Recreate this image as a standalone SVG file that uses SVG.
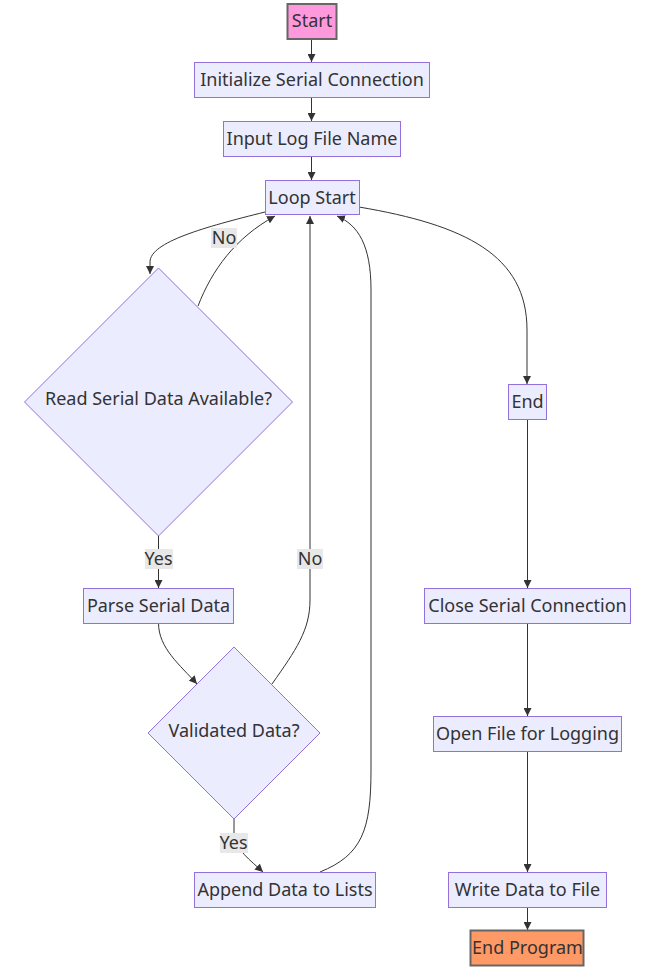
<svg xmlns="http://www.w3.org/2000/svg" width="654" height="970" viewBox="0 0 654 970">
<defs>
<style>
.n{fill:#ECECFF;stroke:#9370DB;stroke-width:1}
.t{font-family:"Noto Sans","DejaVu Sans",sans-serif;font-size:18px;fill:#333;text-anchor:middle}
.e{fill:none;stroke:#333;stroke-width:1}
.lb{fill:#e8e8e8}
</style>
<marker id="ah" viewBox="0 0 10 10" refX="10" refY="5" markerWidth="8" markerHeight="8" markerUnits="userSpaceOnUse" orient="auto">
<path d="M0,0 L10,5 L0,10 z" fill="#333"/>
</marker>
</defs>
<rect width="654" height="970" fill="#ffffff"/>
<g id="edges">
<path class="e" d="M311.5,39 L311.5,62" marker-end="url(#ah)"/>
<path class="e" d="M311.5,98 L311.5,121" marker-end="url(#ah)"/>
<path class="e" d="M311.5,157 L311.5,180" marker-end="url(#ah)"/>
<path class="e" d="M265,212 C205,227 150,242 150,262 L150,274" marker-end="url(#ah)"/>
<path class="e" d="M198,306 C212,270 235,238 275,216" marker-end="url(#ah)"/>
<path class="e" d="M158.5,536 L158.5,588" marker-end="url(#ah)"/>
<path class="e" d="M158.5,623 C158.5,648 180,665 197,684" marker-end="url(#ah)"/>
<path class="e" d="M272,684 C296,650 310,630 310,600 L310,216" marker-end="url(#ah)"/>
<path class="e" d="M234,819 L234,835 C236,850 250,860 263,872" marker-end="url(#ah)"/>
<path class="e" d="M320,872 C362,855 371,830 371,770 L371,290 C371,245 358,225 337,216" marker-end="url(#ah)"/>
<path class="e" d="M359,207 C465,225 527,255 527,330 L527,384" marker-end="url(#ah)"/>
<path class="e" d="M527.5,420 L527.5,588" marker-end="url(#ah)"/>
<path class="e" d="M527.5,624 L527.5,716" marker-end="url(#ah)"/>
<path class="e" d="M527.5,752 L527.5,872" marker-end="url(#ah)"/>
<path class="e" d="M527.5,908 L527.5,930" marker-end="url(#ah)"/>
</g>
<g id="edge-labels">
<rect class="lb" x="211" y="228" width="26" height="20"/>
<text class="t" x="224" y="244">No</text>
<rect class="lb" x="145" y="549" width="28" height="20"/>
<text class="t" x="158.5" y="565">Yes</text>
<rect class="lb" x="297" y="549" width="26" height="20"/>
<text class="t" x="310" y="565">No</text>
<rect class="lb" x="220" y="833" width="28" height="20"/>
<text class="t" x="233.5" y="849">Yes</text>
</g>
<g id="start">
<rect x="287.5" y="4" width="49" height="35" fill="#ff99dd" stroke="#666" stroke-width="2"/>
<text class="t" x="312" y="27">Start</text>
</g>
<g id="init">
<rect class="n" x="194.5" y="62.5" width="235" height="35"/>
<text class="t" x="312" y="86">Initialize Serial Connection</text>
</g>
<g id="input">
<rect class="n" x="223.5" y="121.5" width="177" height="35"/>
<text class="t" x="312" y="145">Input Log File Name</text>
</g>
<g id="loop">
<rect class="n" x="265.5" y="180.5" width="94" height="34"/>
<text class="t" x="312" y="203.5">Loop Start</text>
</g>
<g id="read">
<polygon class="n" points="158.5,268 292.5,402 158.5,536 24.5,402"/>
<text class="t" x="158.5" y="405">Read Serial Data Available?</text>
</g>
<g id="parse">
<rect class="n" x="83.5" y="588.5" width="150" height="35"/>
<text class="t" x="158.5" y="611.5">Parse Serial Data</text>
</g>
<g id="validated">
<polygon class="n" points="234,647 320,733 234,819 148,733"/>
<text class="t" x="234" y="736.5">Validated Data?</text>
</g>
<g id="append">
<rect class="n" x="194.5" y="872.5" width="181" height="35"/>
<text class="t" x="285" y="895.5">Append Data to Lists</text>
</g>
<g id="end">
<rect class="n" x="508.5" y="384.5" width="38" height="35"/>
<text class="t" x="527.5" y="407.5">End</text>
</g>
<g id="close">
<rect class="n" x="424.5" y="588.5" width="206" height="35"/>
<text class="t" x="527.5" y="611.5">Close Serial Connection</text>
</g>
<g id="open">
<rect class="n" x="433.5" y="716.5" width="188" height="35"/>
<text class="t" x="527.5" y="739.5">Open File for Logging</text>
</g>
<g id="write">
<rect class="n" x="448.5" y="872.5" width="158" height="35"/>
<text class="t" x="527.5" y="895.5">Write Data to File</text>
</g>
<g id="endprogram">
<rect x="470.5" y="930.5" width="113" height="35" fill="#ff9966" stroke="#666" stroke-width="2"/>
<text class="t" x="527.5" y="953.5">End Program</text>
</g>
</svg>
